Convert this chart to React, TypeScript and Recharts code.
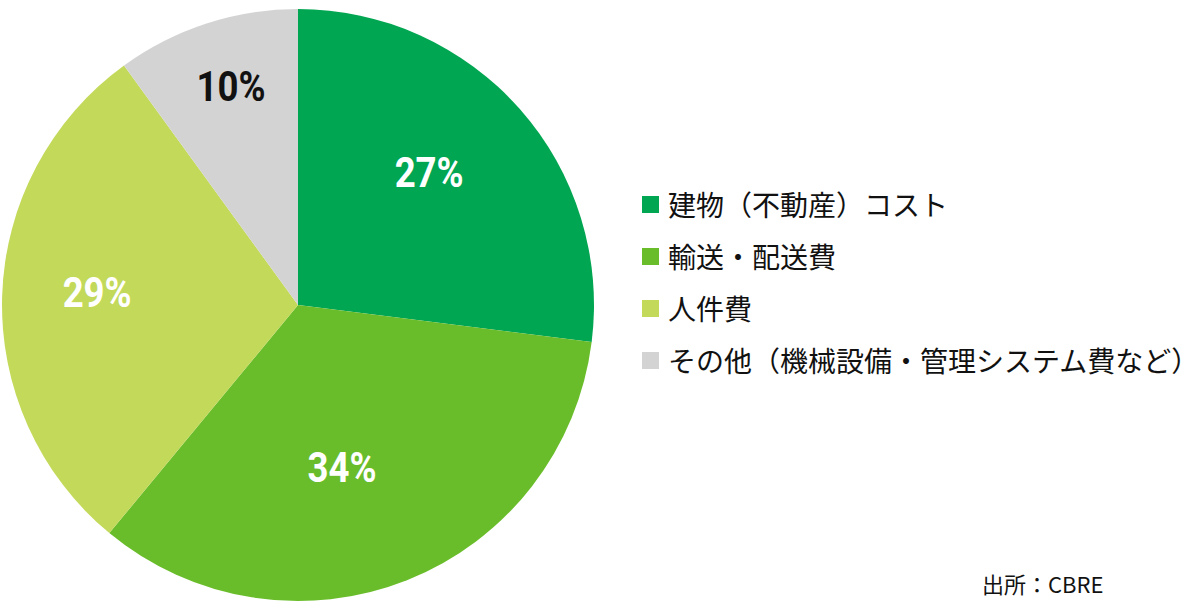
import React from 'react';
import { PieChart, Pie, Cell, Legend } from 'recharts';

const categories = [
  '建物（不動産）コスト',
  '輸送・配送費',
  '人件費',
  'その他（機械設備・管理システム費など）',
];
const shares = [27, 34, 29, 10];
const sliceColors = ['#00A651', '#6ABD2A', '#C3D95A', '#D3D3D3'];
const labelColors = ['#FFFFFF', '#FFFFFF', '#FFFFFF', '#111111'];
const sourceNote = '出所：CBRE';

// hand-tuned label placement: distance from centre (fraction of radius) and angle nudge (deg)
const LABEL_RADIUS = [0.631, 0.567, 0.68, 0.774];
const LABEL_ANGLE_NUDGE = [4.0, -6.4, -1.9, -1.0];

const data = categories.map((name, i) => ({ name, value: shares[i] }));

const RADIAN = Math.PI / 180;
const LABEL_SIZE = 42;

const renderLabel = (props: any) => {
  const { cx, cy, midAngle, outerRadius, index, value } = props;
  const r = outerRadius * LABEL_RADIUS[index];
  const a = (midAngle + LABEL_ANGLE_NUDGE[index]) * RADIAN;
  const x = cx + r * Math.cos(-a);
  const y = cy + r * Math.sin(-a);
  // the original uses a condensed bold face; squeeze a bold face to the same width
  return (
    <text
      x={x}
      y={y + LABEL_SIZE * 0.355}
      fill={labelColors[index]}
      textAnchor="middle"
      fontFamily="Roboto, 'DejaVu Sans', sans-serif"
      fontWeight="bold"
      fontSize={LABEL_SIZE}
      textLength={69}
      lengthAdjust="spacingAndGlyphs"
    >
      {`${value}%`}
    </text>
  );
};

const renderLegend = () => (
  <div>
    {categories.map((name, i) => (
      <div
        key={name}
        style={{ display: 'flex', alignItems: 'center', height: 52 }}
      >
        <span
          style={{
            width: 17,
            height: 17,
            background: sliceColors[i],
            marginRight: 9,
            flexShrink: 0,
          }}
        />
        <span style={{ fontSize: 28, color: '#111', whiteSpace: 'nowrap' }}>{name}</span>
      </div>
    ))}
  </div>
);

const App: React.FC = () => {
  return (
    <div
      style={{
        position: 'absolute',
        top: 0,
        left: 0,
        width: 1200,
        height: 615,
        background: '#fff',
        fontFamily: "'Noto Sans CJK JP', 'Noto Sans', sans-serif",
      }}
    >
      <PieChart width={1200} height={615} margin={{ top: 0, right: 0, bottom: 0, left: 0 }}>
        <Pie
          data={data}
          dataKey="value"
          nameKey="name"
          cx={298}
          cy={305}
          outerRadius={296}
          startAngle={90}
          endAngle={-270}
          stroke="none"
          labelLine={false}
          label={renderLabel}
          isAnimationActive={false}
        >
          {data.map((d, i) => (
            <Cell key={d.name} fill={sliceColors[i]} />
          ))}
        </Pie>
        <Legend
          content={renderLegend}
          wrapperStyle={{ position: 'absolute', left: 642, top: 178, width: 560 }}
        />
      </PieChart>
      <div
        style={{
          position: 'absolute',
          left: 982,
          top: 567,
          fontSize: 22,
          color: '#111',
          whiteSpace: 'nowrap',
        }}
      >
        {sourceNote}
      </div>
    </div>
  );
};

export default App;
